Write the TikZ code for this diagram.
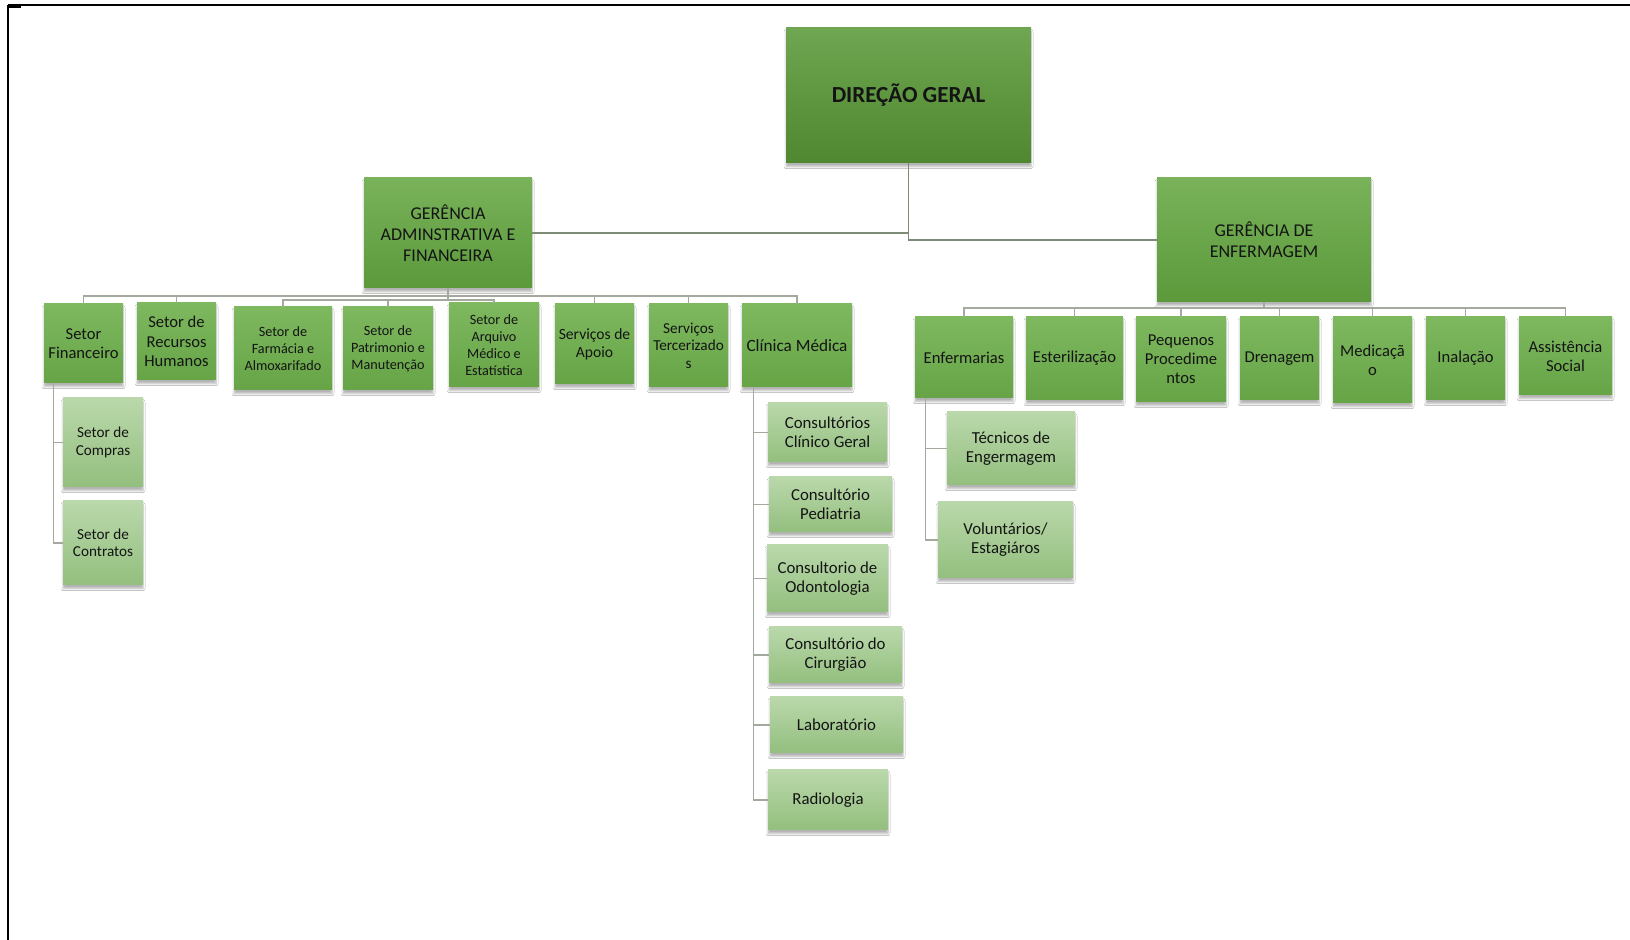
\documentclass[tikz,border=0pt]{standalone}
\usepackage{fontspec}
\setmainfont{Carlito}
\usetikzlibrary{shadows.blur}
\definecolor{dgtop}{HTML}{6FA651}
\definecolor{dgbot}{HTML}{4F8831}
\definecolor{lonetop}{HTML}{79B25A}
\definecolor{lonebot}{HTML}{5B993B}
\definecolor{ltwotop}{HTML}{7EB85F}
\definecolor{ltwobot}{HTML}{66A446}
\definecolor{lthreetop}{HTML}{BAD8AB}
\definecolor{lthreebot}{HTML}{93BF7E}
\definecolor{conncol}{HTML}{A3A99E}
\definecolor{conndark}{HTML}{7E8C77}
\definecolor{textc}{HTML}{141414}
\tikzset{
  orgbox/.style={rectangle, inner xsep=0.5pt, inner ysep=1pt, align=center, text=textc,
    blur shadow={shadow xshift=0pt, shadow yshift=-1.8pt, shadow blur radius=1pt, shadow opacity=30, shadow blur steps=5}},
  topbox/.style={orgbox, top color=dgtop, bottom color=dgbot, font=\bfseries\fontsize{11.5}{13}\selectfont},
  mgrbox/.style={orgbox, top color=lonetop, bottom color=lonebot, font=\fontsize{9}{10.5}\selectfont},
  secbox/.style={orgbox, top color=ltwotop, bottom color=ltwobot, font=\fontsize{8.3}{9.6}\selectfont},
  smallsec/.style={secbox, font=\fontsize{7.1}{8.6}\selectfont},
  subbox/.style={orgbox, top color=lthreetop, bottom color=lthreebot, font=\fontsize{8.4}{9.6}\selectfont},
  conn/.style={draw=conncol, line width=0.75pt},
  conntop/.style={draw=conndark, line width=0.75pt},
  frameline/.style={draw=black, line width=0.8pt}
}
\begin{document}
\begin{tikzpicture}[x=0.5pt,y=-0.5pt]
\useasboundingbox (0,0) rectangle (1630,940);
\fill[white] (0,0) rectangle (1630,940);
% frame
\draw[frameline] (8,5) -- (1630,5);
\draw[frameline] (8,5) -- (8,940);
\fill[black] (8,4) rectangle (21,8);

% top level
\node[topbox, minimum width=122.5pt, minimum height=67.5pt] (dg) at (908.5,95.5) {DIREÇÃO GERAL};
\node[mgrbox, minimum width=84pt, minimum height=55pt] (ga) at (448,233) {GERÊNCIA\\ADMINSTRATIVA E\\FINANCEIRA};
\node[mgrbox, minimum width=107pt, minimum height=62pt] (ge) at (1264,240) {GERÊNCIA DE\\ENFERMAGEM};

% administrative sectors
\node[secbox, minimum width=39.5pt, minimum height=39.5pt] (sf) at (83.5,343.5) {Setor\\Financeiro};
\node[secbox, minimum width=39.5pt, minimum height=38.5pt] (rh) at (176.5,341.5) {Setor de\\Recursos\\Humanos};
\node[smallsec, minimum width=49pt, minimum height=41.5pt] (fa) at (283,348.5) {Setor de\\Farmácia e\\Almoxarifado};
\node[smallsec, minimum width=45pt, minimum height=41.5pt] (pm) at (388,348.5) {Setor de\\Patrimonio e\\Manutenção};
\node[smallsec, minimum width=45pt, minimum height=42pt] (ar) at (494,345) {Setor de\\Arquivo\\Médico e\\Estatística};
\node[secbox, font=\fontsize{7.8}{9}\selectfont, minimum width=39.5pt, minimum height=40pt] (sa) at (594.5,344) {Serviços de\\Apoio};
\node[secbox, font=\fontsize{7.6}{8.8}\selectfont, minimum width=39.5pt, minimum height=41.5pt] (st) at (688.5,345.5) {Serviços\\Tercerizado\\s};
\node[secbox, font=\fontsize{8.6}{9.8}\selectfont, minimum width=55pt, minimum height=41.5pt] (cm) at (797,345.5) {Clínica Médica};

% finance children
\node[subbox, font=\fontsize{7.6}{8.6}\selectfont, minimum width=40pt, minimum height=44.5pt] (sc) at (103,442.5) {Setor de\\Compras};
\node[subbox, font=\fontsize{7.6}{8.6}\selectfont, minimum width=40pt, minimum height=42pt] (sct) at (103,543) {Setor de\\Contratos};

% clinic children
\node[subbox, minimum width=59.5pt, minimum height=29.5pt] (c1) at (827.5,432.5) {Consultórios\\Clínico Geral};
\node[subbox, minimum width=61.5pt, minimum height=27.5pt] (c2) at (830.5,504.5) {Consultório\\Pediatria};
\node[subbox, minimum width=60.5pt, minimum height=33.5pt] (c3) at (827.5,578.5) {Consultorio de\\Odontologia};
\node[subbox, minimum width=66.5pt, minimum height=28pt] (c4) at (835.5,655) {Consultório do\\Cirurgião};
\node[subbox, minimum width=66.5pt, minimum height=28pt] (c5) at (836.5,725) {Laboratório};
\node[subbox, minimum width=60pt, minimum height=30pt] (c6) at (828,800) {Radiologia};

% nursing sectors
\node[secbox, minimum width=49pt, minimum height=40.5pt] (e1) at (964,357.5) {Enfermarias};
\node[secbox, minimum width=48.5pt, minimum height=41.5pt] (e2) at (1074.5,358.5) {Esterilização};
\node[secbox, minimum width=45pt, minimum height=42.5pt] (e3) at (1181,359.5) {Pequenos\\Procedime\\ntos};
\node[secbox, minimum width=39.5pt, minimum height=41.5pt] (e4) at (1279.5,358.5) {Drenagem};
\node[secbox, minimum width=39.5pt, minimum height=43pt] (e5) at (1372.5,360) {Medicaçã\\o};
\node[secbox, minimum width=39.5pt, minimum height=41.5pt] (e6) at (1465.5,358.5) {Inalação};
\node[secbox, minimum width=46.5pt, minimum height=39pt] (e7) at (1565.5,356) {Assistência\\Social};

% ward children
\node[subbox, minimum width=64pt, minimum height=36.5pt] (t1) at (1011,448.5) {Técnicos de\\Engermagem};
\node[subbox, minimum width=67.5pt, minimum height=38pt] (t2) at (1005.5,540) {Voluntários/\\Estagiáros};

% bus coordinates
\coordinate (busa) at (0,296);
\coordinate (busb) at (0,300);
\coordinate (busn) at (0,308);

% connectors: top level
\draw[conntop] (dg.south) |- (ge.west);
\draw[conntop] (ga.east) -- (dg.south |- ga.east);

% connectors: administrative
\draw[conn] (sf.north) -- (sf.north |- busa) -- (cm.north |- busa) -- (cm.north);
\draw[conn] (rh.north) -- (rh.north |- busa);
\draw[conn] (sa.north) -- (sa.north |- busa);
\draw[conn] (st.north) -- (st.north |- busa);
\draw[conn] (ga.south) -- (ga.south |- busb);
\draw[conn] (fa.north) -- (fa.north |- busb) -- (ar.north |- busb) -- (ar.north);
\draw[conn] (pm.north) -- (pm.north |- busb);

% finance children
\draw[conn] (sf.south west) ++(10,0) coordinate (sfl) -- (sfl |- sct.west) -- (sct.west);
\draw[conn] (sfl |- sc.west) -- (sc.west);

% clinic children
\draw[conn] (cm.south west) ++(12,0) coordinate (cml) -- (cml |- c6.west) -- (c6.west);
\draw[conn] (cml |- c1.west) -- (c1.west);
\draw[conn] (cml |- c2.west) -- (c2.west);
\draw[conn] (cml |- c3.west) -- (c3.west);
\draw[conn] (cml |- c4.west) -- (c4.west);
\draw[conn] (cml |- c5.west) -- (c5.west);

% nursing
\draw[conn] (ge.south) -- (ge.south |- busn);
\draw[conn] (e1.north) -- (e1.north |- busn) -- (e7.north |- busn) -- (e7.north);
\draw[conn] (e2.north) -- (e2.north |- busn);
\draw[conn] (e3.north) -- (e3.north |- busn);
\draw[conn] (e4.north) -- (e4.north |- busn);
\draw[conn] (e5.north) -- (e5.north |- busn);
\draw[conn] (e6.north) -- (e6.north |- busn);

% ward children
\draw[conn] (e1.south west) ++(11,0) coordinate (e1l) -- (e1l |- t2.west) -- (t2.west);
\draw[conn] (e1l |- t1.west) -- (t1.west);
\end{tikzpicture}
\end{document}
